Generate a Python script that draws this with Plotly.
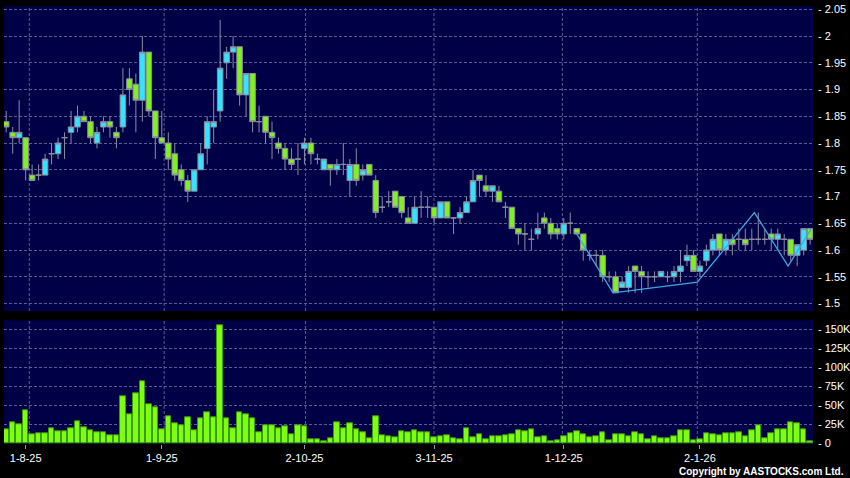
import plotly.graph_objects as go

# ---- data ----
tick_idx = [3, 24, 46, 66, 86, 107]
tick_labels = ["1-8-25", "1-9-25", "2-10-25", "3-11-25", "1-12-25", "2-1-26"]

opens = [1.84,1.82,1.81,1.81,1.74,1.74,1.74,1.78,1.78,1.81,1.82,1.83,1.85,1.84,1.80,1.83,1.84,1.82,1.83,1.92,
         1.91,1.88,1.97,1.86,1.81,1.80,1.78,1.75,1.73,1.71,1.75,1.79,1.83,1.86,1.95,1.97,1.98,1.89,1.93,1.84,
         1.85,1.82,1.80,1.79,1.77,1.77,1.79,1.80,1.77,1.75,1.76,1.75,1.76,1.73,1.76,1.74,1.76,1.73,1.68,1.69,
         1.71,1.70,1.66,1.65,1.68,1.68,1.68,1.66,1.69,1.66,1.66,1.67,1.69,1.74,1.72,1.71,1.71,1.68,1.68,1.64,
         1.63,1.62,1.63,1.66,1.65,1.64,1.63,1.65,1.64,1.63,1.59,1.59,1.59,1.55,1.55,1.53,1.53,1.57,1.56,1.55,
         1.55,1.55,1.55,1.55,1.56,1.58,1.59,1.56,1.58,1.60,1.63,1.60,1.62,1.62,1.62,1.62,1.62,1.62,1.63,1.62,
         1.62,1.62,1.59,1.60,1.64]
highs = [1.86,1.83,1.88,1.81,1.76,1.76,1.78,1.80,1.81,1.82,1.86,1.87,1.86,1.85,1.83,1.85,1.85,1.83,1.94,1.94,
         1.93,2.00,1.97,1.86,1.86,1.82,1.80,1.76,1.74,1.75,1.80,1.85,1.90,2.03,1.98,2.00,1.98,1.93,1.93,1.87,
         1.85,1.84,1.81,1.80,1.79,1.80,1.81,1.81,1.78,1.77,1.76,1.77,1.80,1.77,1.79,1.76,1.76,1.74,1.70,1.71,
         1.71,1.70,1.68,1.70,1.71,1.70,1.68,1.69,1.69,1.66,1.68,1.70,1.75,1.74,1.74,1.72,1.72,1.69,1.68,1.64,
         1.65,1.64,1.67,1.67,1.66,1.65,1.66,1.67,1.64,1.63,1.60,1.60,1.60,1.56,1.56,1.55,1.57,1.57,1.57,1.56,
         1.56,1.56,1.56,1.57,1.60,1.61,1.60,1.58,1.61,1.63,1.63,1.63,1.63,1.64,1.64,1.64,1.67,1.64,1.64,1.64,
         1.63,1.62,1.61,1.64,1.64]
lows = [1.82,1.78,1.80,1.73,1.73,1.73,1.74,1.76,1.77,1.77,1.80,1.82,1.84,1.80,1.79,1.82,1.81,1.79,1.82,1.87,
        1.82,1.84,1.85,1.77,1.80,1.75,1.73,1.72,1.69,1.71,1.75,1.76,1.80,1.84,1.92,1.94,1.87,1.85,1.82,1.82,
        1.80,1.77,1.78,1.75,1.75,1.74,1.76,1.76,1.76,1.75,1.72,1.74,1.74,1.70,1.72,1.73,1.74,1.66,1.67,1.68,
        1.68,1.66,1.65,1.65,1.66,1.66,1.65,1.66,1.66,1.63,1.65,1.67,1.69,1.70,1.70,1.69,1.69,1.66,1.64,1.61,
        1.60,1.60,1.62,1.64,1.62,1.62,1.62,1.63,1.63,1.58,1.58,1.57,1.54,1.54,1.52,1.53,1.52,1.52,1.52,1.53,
        1.54,1.55,1.54,1.54,1.54,1.57,1.56,1.55,1.57,1.59,1.59,1.59,1.59,1.60,1.60,1.60,1.61,1.61,1.60,1.60,
        1.59,1.58,1.57,1.59,1.61]
closes = [1.83,1.81,1.82,1.75,1.73,1.74,1.77,1.78,1.80,1.81,1.83,1.85,1.84,1.81,1.82,1.84,1.83,1.81,1.89,1.90,
          1.88,1.97,1.86,1.81,1.80,1.77,1.74,1.73,1.71,1.75,1.78,1.84,1.84,1.94,1.97,1.98,1.89,1.93,1.84,1.84,
          1.82,1.81,1.79,1.77,1.76,1.77,1.80,1.78,1.77,1.77,1.75,1.76,1.76,1.76,1.73,1.75,1.74,1.67,1.68,1.69,
          1.68,1.67,1.65,1.68,1.68,1.68,1.66,1.69,1.66,1.66,1.67,1.69,1.73,1.73,1.71,1.72,1.69,1.68,1.64,1.63,
          1.63,1.62,1.64,1.65,1.63,1.63,1.65,1.65,1.63,1.60,1.59,1.59,1.55,1.55,1.52,1.54,1.56,1.56,1.55,1.55,
          1.55,1.56,1.55,1.56,1.57,1.59,1.56,1.57,1.60,1.62,1.60,1.62,1.61,1.62,1.61,1.62,1.62,1.62,1.62,1.63,
          1.62,1.59,1.61,1.64,1.62]
volumes_k = [18.4,27.6,25.0,43.0,12.3,13.6,13.6,19.7,15.4,15.4,20.2,28.5,21.0,17.5,14.5,15.0,11.0,11.0,61.4,38.2,
             65.8,82.0,51.0,47.8,18.9,35.5,25.9,23.7,33.8,16.7,32.9,41.2,34.2,155.0,32.9,20.2,40.4,38.2,33.3,14.0,
             23.2,23.2,19.3,21.9,11.8,23.7,21.9,5.3,5.3,3.0,6.6,27.6,19.7,26.3,18.4,15.0,7.0,36.0,11.0,8.8,
             7.5,15.4,14.0,17.5,15.0,14.0,7.5,8.8,10.5,6.1,4.8,19.7,8.3,11.8,4.8,9.6,9.6,11.0,12.3,17.1,
             15.4,18.4,7.5,9.6,2.2,4.4,9.6,13.6,15.4,12.3,8.3,8.8,15.0,4.4,11.4,11.4,9.6,14.5,11.4,5.7,
             8.8,6.1,6.6,8.8,17.1,17.5,3.9,4.8,12.7,12.3,10.1,13.6,13.6,14.5,9.6,16.7,23.2,7.0,12.7,18.9,
             18.0,28.1,25.9,18.9,2.6]
zigzag_x = [88.0, 93.6, 106.6, 115.4, 120.6, 124.2]
zigzag_y = [1.63, 1.52, 1.54, 1.67, 1.57, 1.64]

price_ticks = [1.5, 1.55, 1.6, 1.65, 1.7, 1.75, 1.8, 1.85, 1.9, 1.95, 2.0, 2.05]
price_tick_text = ["1.5", "1.55", "1.6", "1.65", "1.7", "1.75", "1.8", "1.85", "1.9", "1.95", "2", "2.05"]
vol_ticks = [0, 25000, 50000, 75000, 100000, 125000, 150000]
vol_tick_text = ["0", "25K", "50K", "75K", "100K", "125K", "150K"]

# ---- styling ----
NAVY = "#000046"
GRID = "#5c5c94"
FONT = "Liberation Sans, Arial, sans-serif"

n = len(closes)
xs = list(range(n))
volumes = [v * 1000 for v in volumes_k]

fig = go.Figure()
fig.add_trace(go.Candlestick(
    x=xs, open=opens, high=highs, low=lows, close=closes,
    increasing=dict(fillcolor="#33e4ff", line=dict(color="#8c8ca0", width=1)),
    decreasing=dict(fillcolor="#80f020", line=dict(color="#8c8ca0", width=1)),
    whiskerwidth=0, xaxis="x", yaxis="y", showlegend=False, hoverinfo="skip"))
fig.add_trace(go.Scatter(
    x=zigzag_x, y=zigzag_y, mode="lines", line=dict(color="#3fa6e6", width=1.3),
    xaxis="x", yaxis="y", showlegend=False, hoverinfo="skip"))
fig.add_trace(go.Bar(
    x=xs, y=volumes, width=0.85,
    marker=dict(color="#7cff10", line=dict(color="#3c9a00", width=1)),
    xaxis="x2", yaxis="y2", showlegend=False, hoverinfo="skip"))

xr = [-0.34, 124.44]
# vertical month grid lines (slightly different scale than candle positions in reference)
grid_x = [m + 0.56 - 0.0093 * (m - tick_idx[0]) for m in tick_idx]
shapes = []
for gx in grid_x:
    for xref, yref in (("x", "y domain"), ("x2", "y2 domain")):
        shapes.append(dict(type="line", xref=xref, yref=yref, x0=gx, x1=gx, y0=0, y1=1,
                           line=dict(color=GRID, width=1, dash="3px,2px"), layer="below"))

fig.update_layout(
    width=850, height=478,
    paper_bgcolor="#000000", plot_bgcolor=NAVY,
    margin=dict(l=4, r=37, t=6, b=34, autoexpand=False),
    bargap=0,
    boxgap=0.1, boxgroupgap=0.05,
    shapes=shapes,
    font=dict(family=FONT, color="#ffffff", size=11),
    xaxis=dict(domain=[0, 1], range=xr, anchor="y", showgrid=False, zeroline=False,
               showticklabels=False, ticks="", rangeslider=dict(visible=False),
               fixedrange=True, automargin=False),
    yaxis=dict(domain=[0.3037, 1], range=[1.486, 2.0562], side="right", anchor="x",
               tickvals=price_ticks, ticktext=["- " + t for t in price_tick_text],
               showgrid=True, gridcolor=GRID, griddash="3px,2px", gridwidth=1,
               zeroline=False, ticks="", ticklabelstandoff=4, automargin=False,
               tickfont=dict(family=FONT, size=11, color="#ffffff")),
    xaxis2=dict(domain=[0, 1], range=xr, anchor="y2", showgrid=False, zeroline=False,
                tickvals=tick_idx, ticktext=tick_labels, ticks="outside", ticklen=4,
                tickcolor="#9a9a9a", automargin=False,
                tickfont=dict(family=FONT, size=11, color="#ffffff")),
    yaxis2=dict(domain=[0, 0.2824], range=[-900, 161800], side="right", anchor="x2",
                tickvals=vol_ticks, ticktext=["- " + t for t in vol_tick_text],
                showgrid=True, gridcolor=GRID, griddash="3px,2px", gridwidth=1,
                zeroline=False, ticks="", ticklabelstandoff=4, automargin=False,
                tickfont=dict(family=FONT, size=11, color="#ffffff")),
    annotations=[dict(text="<b>Copyright by AASTOCKS.com Ltd.</b>", xref="paper", yref="paper",
                      x=1.0408, y=-0.0632, xanchor="right", yanchor="middle", showarrow=False,
                      font=dict(family=FONT, size=10, color="#ffffff"))],
)

fig.write_html("out.html", config={"displayModeBar": False},
               post_script="document.body.style.margin='0px';document.body.style.overflow='hidden';")
